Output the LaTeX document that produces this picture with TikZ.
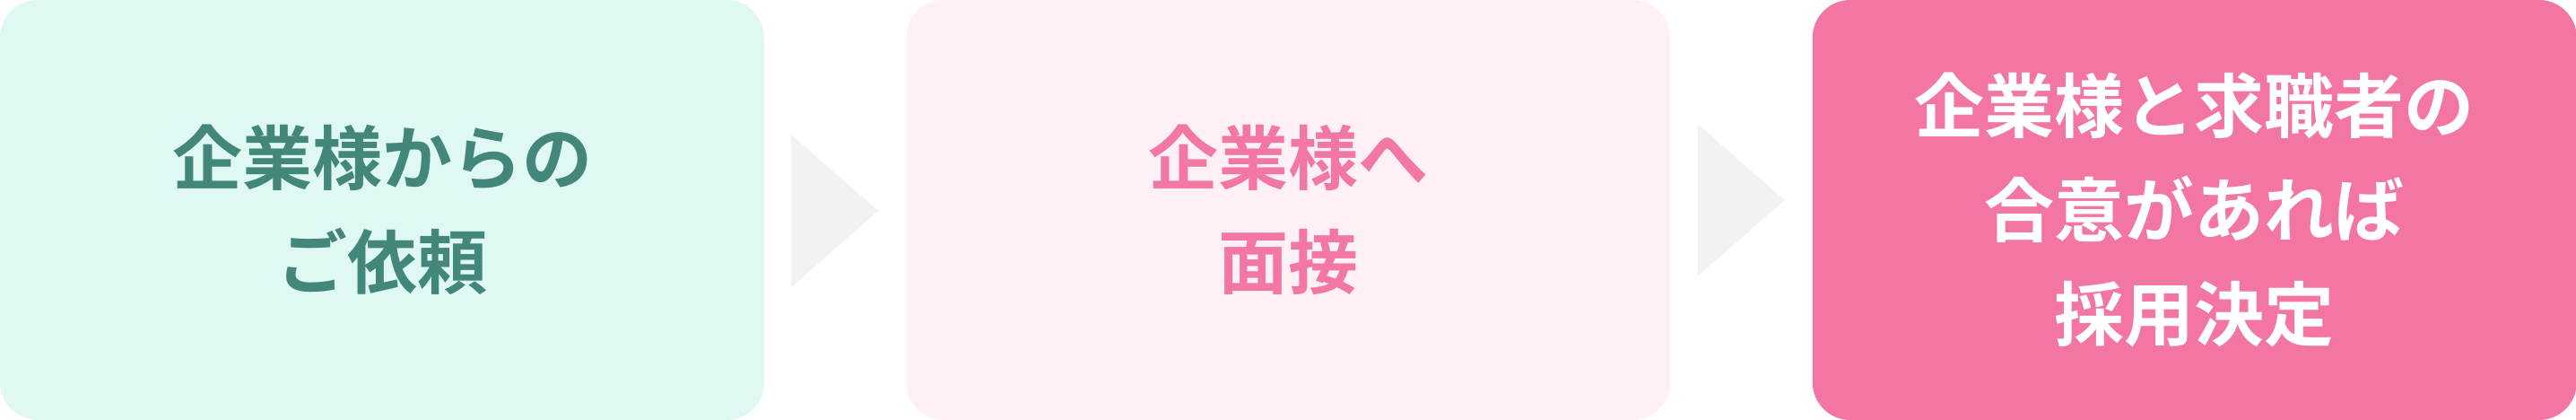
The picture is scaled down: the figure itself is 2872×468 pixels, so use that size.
\documentclass[tikz,border=0pt]{standalone}
\usepackage{fontspec}
\usepackage{tikz}
\usepackage{xcolor}
\usetikzlibrary{calc}
\usetikzlibrary{positioning}
\setmainfont{Noto Sans CJK JP}[BoldFont={Noto Sans CJK JP Bold}]
\definecolor{mintbg}{HTML}{E0F8F4}
\definecolor{minttext}{HTML}{43877A}
\definecolor{rosebg}{HTML}{FFF0F5}
\definecolor{rosetext}{HTML}{F277A5}
\definecolor{pinkbg}{HTML}{F275A4}
\definecolor{chevgray}{HTML}{F2F2F2}
\tikzstyle{flowbox}=[minimum width=852pt, minimum height=468pt, inner sep=0pt,
  rounded corners=42pt, align=center,
  font=\fontsize{78pt}{116pt}\selectfont\bfseries]
\tikzstyle{chevron}=[fill=chevgray]

\begin{document}
\begin{tikzpicture}[x=1pt, y=1pt]
        \useasboundingbox (0,0) rectangle (2872,468);
        \node[flowbox, fill=mintbg, text=minttext]  (b1) at (426,234) {企業様からの\\ご依頼};
        \node[flowbox, fill=rosebg, text=rosetext]  (b2) [right=158pt of b1] {企業様へ\\面接};
        \node[flowbox, fill=pinkbg, text=white]     (b3) [right=158pt of b2] {企業様と求職者の\\合意があれば\\採用決定};

        \fill[chevron] ($(b1.east)+(30,-86)$) -- ($(b1.east)+(30,84)$) -- ($(b1.east)+(127,-1)$) -- cycle;
        \fill[chevron] ($(b2.east)+(30,-74)$) -- ($(b2.east)+(30,96)$) -- ($(b2.east)+(127,11)$) -- cycle;
      \end{tikzpicture}
\end{document}
